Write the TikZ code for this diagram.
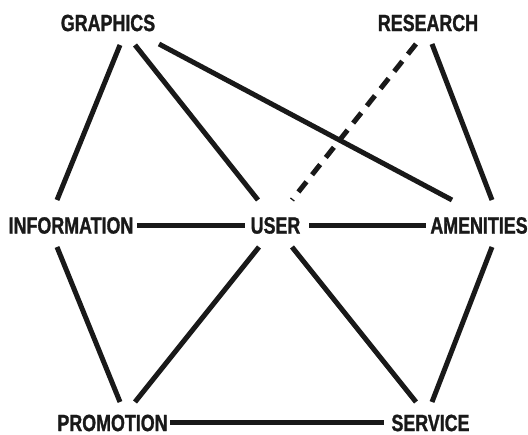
\documentclass[tikz,border=0pt]{standalone}
\usepackage{fontspec}
\newfontfamily\lblfont[FakeStretch=0.76,FakeBold=1.2]{Liberation Sans Bold}
\begin{document}
\begin{tikzpicture}[x=1pt,y=-1pt,
  lbl/.style={inner sep=0pt,font=\lblfont\fontsize{23.5}{25}\selectfont,text=black!90},
  link/.style={line width=5pt,black!90},
  dashlink/.style={link,dash pattern=on 13pt off 9pt}]
\useasboundingbox (0,0) rectangle (528,435);
\node[lbl] (g) at (108,23) {GRAPHICS};
\node[lbl] (r) at (428,23) {RESEARCH};
\node[lbl] (i) at (71,225.5) {INFORMATION};
\node[lbl] (u) at (275.5,225.5) {USER};
\node[lbl] (a) at (479,225.5) {AMENITIES};
\node[lbl] (p) at (112.5,423) {PROMOTION};
\node[lbl] (s) at (430.5,423) {SERVICE};
\draw[link] ([shift={(12,22)}]g.center) -- ([shift={(-14,-25.5)}]i.center);
\draw[link] ([shift={(27,22)}]g.center) -- ([shift={(-17.5,-25.5)}]u.center);
\draw[link] ([shift={(51,21)}]g.center) -- ([shift={(-27,-25.5)}]a.center);
\draw[dashlink] ([shift={(-12,21)}]r.center) -- ([shift={(16.5,-25.5)}]u.center);
\draw[link] ([shift={(4,21)}]r.center) -- ([shift={(13,-25.5)}]a.center);
\draw[link] ([shift={(66,0)}]i.center) -- ([shift={(-30.5,0)}]u.center);
\draw[link] ([shift={(33.5,0)}]u.center) -- ([shift={(-53,0)}]a.center);
\draw[link] ([shift={(-14,21.5)}]i.center) -- ([shift={(7.5,-21)}]p.center);
\draw[link] ([shift={(-16.5,21.5)}]u.center) -- ([shift={(22.5,-21)}]p.center);
\draw[link] ([shift={(16.5,21.5)}]u.center) -- ([shift={(-14.5,-21)}]s.center);
\draw[link] ([shift={(13,21.5)}]a.center) -- ([shift={(1.5,-21)}]s.center);
\draw[link] ([shift={(57.5,0)}]p.center) -- ([shift={(-46.5,0)}]s.center);
\end{tikzpicture}
\end{document}
